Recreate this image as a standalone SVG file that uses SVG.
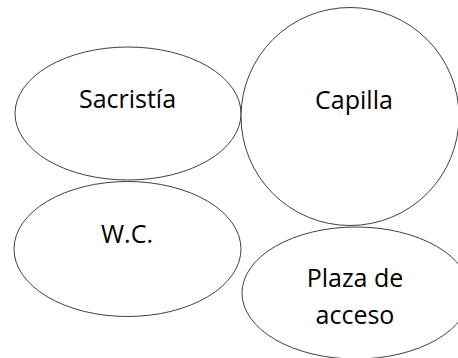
<svg xmlns="http://www.w3.org/2000/svg" width="458" height="358" viewBox="0 0 458 358">
<style>
.n{fill:#ffffff;stroke:#404040;stroke-width:1}
.t{font-family:"Open Sans","Noto Sans","Liberation Sans",sans-serif;font-size:25px;fill:#000000;text-anchor:middle}
</style>
<rect width="458" height="358" fill="#ffffff"/>
<g id="connectors"></g>
<g id="sacristia">
<ellipse class="n" cx="128" cy="113.5" rx="113" ry="66.5"/>
<text class="t" x="127.5" y="108">Sacristía</text>
</g>
<g id="capilla">
<circle class="n" cx="350" cy="116.5" r="109"/>
<text class="t" x="354" y="109">Capilla</text>
</g>
<g id="wc">
<ellipse class="n" cx="127.5" cy="249" rx="113.5" ry="67.5"/>
<text class="t" x="127" y="243">W.C.</text>
</g>
<g id="plaza">
<ellipse class="n" cx="356" cy="293" rx="114" ry="66"/>
<text class="t" x="355" y="287">Plaza de</text>
<text class="t" x="355" y="324">acceso</text>
</g>
</svg>
